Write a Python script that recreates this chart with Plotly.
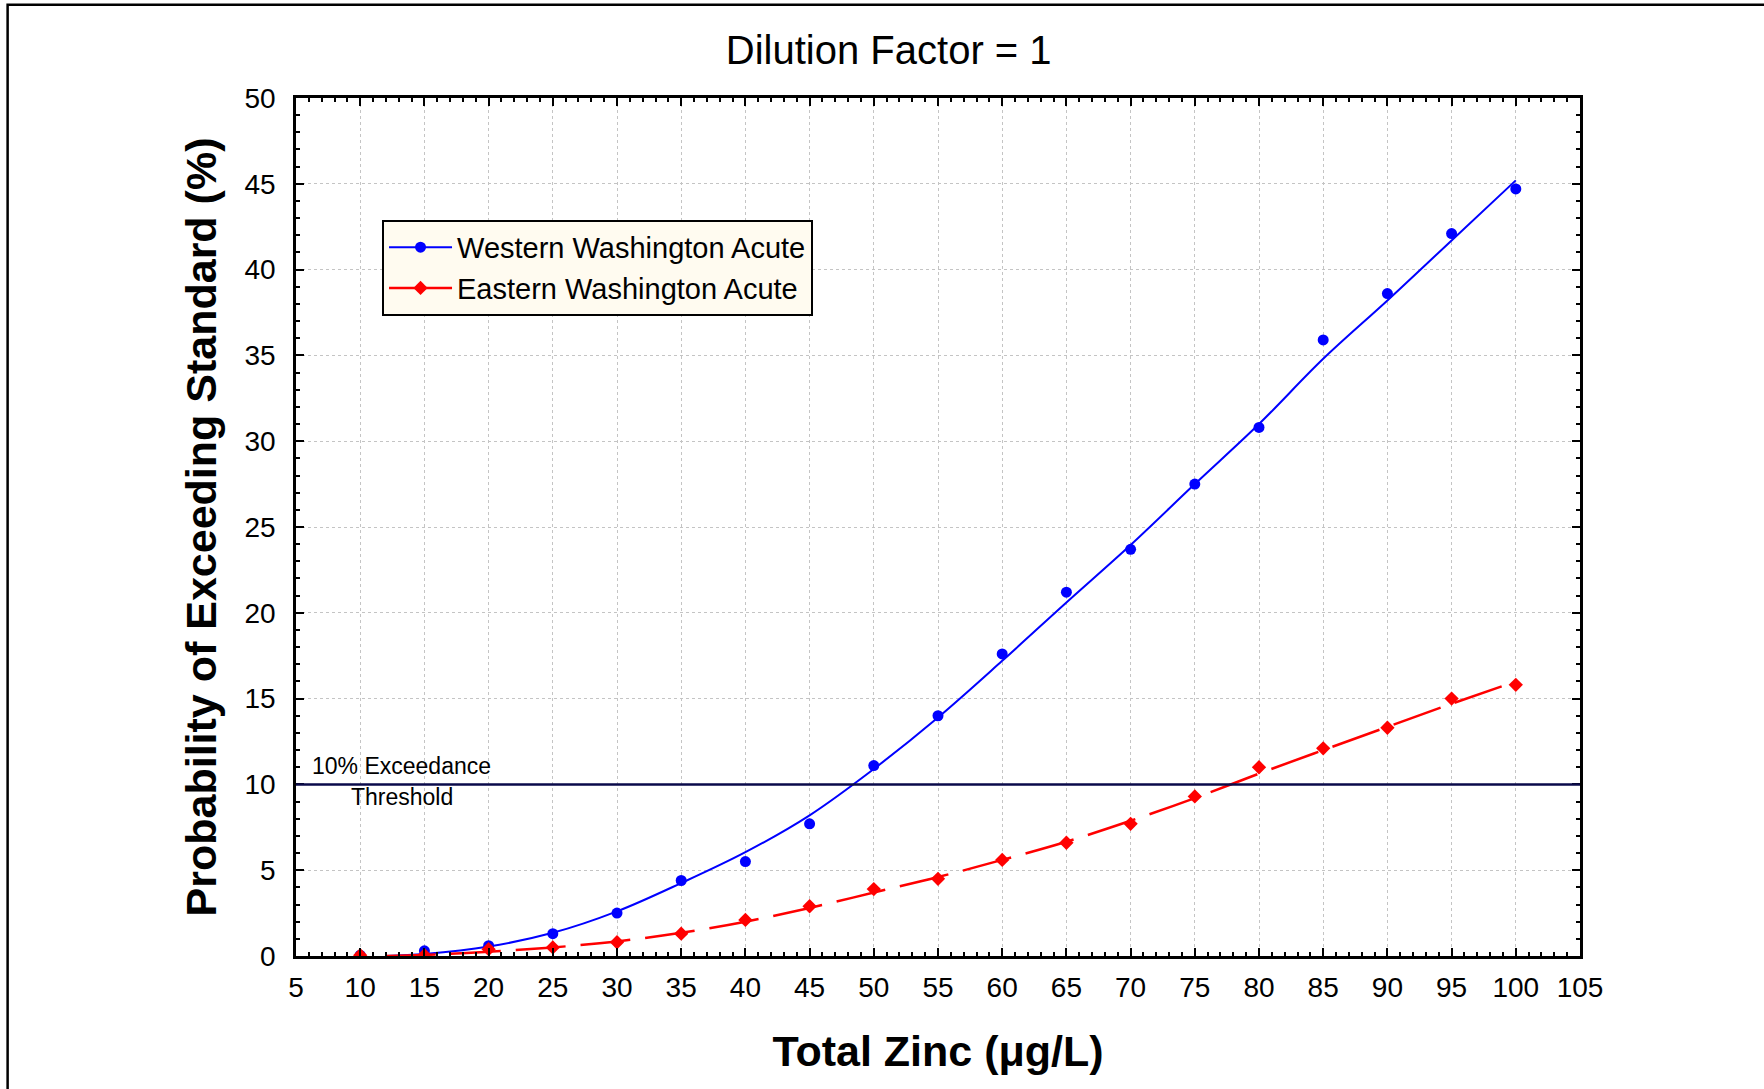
import plotly.graph_objects as go

# ---- data ----
zinc = [10, 15, 20, 25, 30, 35, 40, 45, 50, 55, 60, 65, 70, 75, 80, 85, 90, 95, 100]
west_obs = [0.05, 0.3, 0.6, 1.3, 2.5, 4.4, 5.5, 7.7, 11.1, 14.0, 17.6, 21.2, 23.7, 27.5, 30.8, 35.9, 38.6, 42.1, 44.7]
east_obs = [0.05, 0.05, 0.4, 0.5, 0.8, 1.3, 2.1, 2.9, 3.9, 4.5, 5.6, 6.6, 7.7, 9.3, 11.0, 12.1, 13.3, 15.0, 15.8]

fit_x = [12, 15, 20, 25, 30, 35, 40, 45, 50, 55, 60, 65, 70, 75, 80, 85, 90, 95, 100]
west_fit = [0.0, 0.12, 0.55, 1.35, 2.6, 4.25, 6.05, 8.2, 10.9, 13.9, 17.2, 20.6, 23.95, 27.5, 31.0, 34.8, 38.2, 41.7, 45.2]
east_fit = [0.0, 0.06, 0.25, 0.5, 0.85, 1.35, 2.0, 2.8, 3.7, 4.6, 5.6, 6.66, 7.88, 9.2, 10.63, 12.0, 13.35, 14.7, 16.0]

threshold = 10
series_names = ["Western Washington Acute", "Eastern Washington Acute"]
title_text = "Dilution Factor = 1"
x_title = "Total Zinc (μg/L)"
y_title = "Probability of Exceeding Standard (%)"

FONT = "Liberation Sans, Arial, sans-serif"
BLUE = "#0000FF"
RED = "#FF0000"
RED_DASH = "50px,15px"

fig = go.Figure()

# fitted curves
fig.add_trace(go.Scatter(x=fit_x, y=west_fit, mode="lines", line=dict(color=BLUE, width=2, shape="spline"),
                         showlegend=False, hoverinfo="skip"))
fig.add_trace(go.Scatter(x=fit_x, y=east_fit, mode="lines",
                         line=dict(color=RED, width=2.5, shape="spline", dash=RED_DASH),
                         showlegend=False, hoverinfo="skip"))
# observed points
fig.add_trace(go.Scatter(x=zinc, y=west_obs, mode="markers",
                         marker=dict(symbol="circle", size=11, color=BLUE), showlegend=False))
fig.add_trace(go.Scatter(x=zinc, y=east_obs, mode="markers",
                         marker=dict(symbol="diamond", size=11, color=RED), showlegend=False))
# legend entries
fig.add_trace(go.Scatter(x=[None], y=[None], mode="lines+markers", name=series_names[0],
                         line=dict(color=BLUE, width=2), marker=dict(symbol="circle", size=11, color=BLUE)))
fig.add_trace(go.Scatter(x=[None], y=[None], mode="lines+markers", name=series_names[1],
                         line=dict(color=RED, width=2.5), marker=dict(symbol="diamond", size=11, color=RED)))

# threshold line
fig.add_hline(y=threshold, line=dict(color="#0a0a4a", width=2.5), layer="above")

fig.add_annotation(x=13.25, y=11.07, xref="x", yref="y", text="10% Exceedance", showarrow=False,
                   font=dict(family=FONT, size=23, color="black"), xanchor="center", yanchor="middle")
fig.add_annotation(x=13.25, y=9.26, xref="x", yref="y", text="Threshold", showarrow=False,
                   font=dict(family=FONT, size=23, color="black"), xanchor="center", yanchor="middle")

# outer frame
fig.add_shape(type="rect", xref="paper", yref="paper", x0=-0.2246, x1=1.3, y0=-0.3, y1=1.1087,
              line=dict(color="black", width=2.5), fillcolor="rgba(0,0,0,0)", layer="below")

axis_common = dict(
    showline=True, linecolor="black", linewidth=2.5, mirror="ticks",
    ticks="inside", ticklen=8, tickwidth=2, tickcolor="black",
    showgrid=True, gridcolor="#c4c4c4", griddash="dot", gridwidth=1,
    zeroline=False,
    tickfont=dict(family=FONT, size=28, color="black"),
    minor=dict(dtick=1, ticks="inside", ticklen=4, tickwidth=1.5, tickcolor="black", showgrid=False),
)

fig.update_layout(
    width=1764, height=1089,
    margin=dict(l=296, r=184, t=98, b=133),
    paper_bgcolor="white", plot_bgcolor="white",
    font=dict(family=FONT, color="black"),
    title=dict(text=title_text, x=0.4616, xref="paper", xanchor="center",
               y=1 - 50 / 1089, yref="container", yanchor="middle",
               font=dict(family=FONT, size=40, color="black")),
    xaxis=dict(range=[5, 105], dtick=5, tick0=5, ticklabelstandoff=5,
               title=dict(text=f"<b>{x_title}</b>", standoff=34, font=dict(family=FONT, size=43, color="black")),
               **axis_common),
    yaxis=dict(range=[0, 50], dtick=5, tick0=0, ticklabelstandoff=12,
               title=dict(text=f"<b>{y_title}</b>", standoff=15, font=dict(family=FONT, size=43, color="black")),
               **axis_common),
    legend=dict(x=0.067, y=0.858, xanchor="left", yanchor="top", bgcolor="#FFFBF0",
                bordercolor="black", borderwidth=2, itemwidth=63,
                font=dict(family=FONT, size=29, color="black"), tracegroupgap=0),
)

fig.write_html("out.html", config={"displayModeBar": False},
               post_script="document.body.style.margin='0';")
